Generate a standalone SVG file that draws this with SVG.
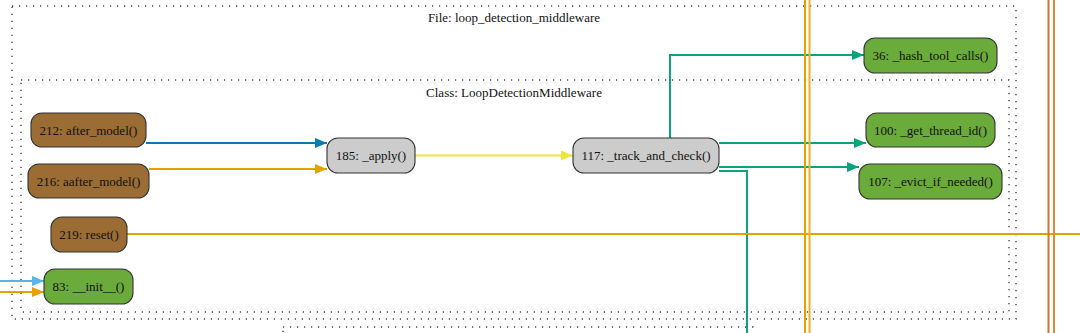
<svg xmlns="http://www.w3.org/2000/svg" width="1080" height="333" viewBox="0 0 1080 333">
<style>
.cl{fill:none;stroke:#444;stroke-width:1.4;stroke-dasharray:1.2 5.8}
.cll{font-family:"Liberation Serif","Times New Roman",serif;font-size:13px;fill:#111;text-anchor:middle}
.n rect{stroke:#333;stroke-width:1.1}
.n text{font-family:"Liberation Serif","Times New Roman",serif;font-size:13px;fill:#111;text-anchor:middle;dominant-baseline:central}
.brown{fill:#9b6c34}
.green{fill:#6aab3b}
.gray{fill:#cccccc}
.e{fill:none;stroke-width:2}
</style>
<defs>
<marker id="aB" viewBox="0 0 12 10" refX="12" refY="5" markerWidth="12" markerHeight="10" markerUnits="userSpaceOnUse" orient="auto"><path d="M0,0 L12,5 L0,10 z" fill="#0f77b0"/></marker>
<marker id="aO" viewBox="0 0 12 10" refX="12" refY="5" markerWidth="12" markerHeight="10" markerUnits="userSpaceOnUse" orient="auto"><path d="M0,0 L12,5 L0,10 z" fill="#e6a000"/></marker>
<marker id="aY" viewBox="0 0 12 10" refX="12" refY="5" markerWidth="12" markerHeight="10" markerUnits="userSpaceOnUse" orient="auto"><path d="M0,0 L12,5 L0,10 z" fill="#efe442"/></marker>
<marker id="aG" viewBox="0 0 12 10" refX="12" refY="5" markerWidth="12" markerHeight="10" markerUnits="userSpaceOnUse" orient="auto"><path d="M0,0 L12,5 L0,10 z" fill="#0ba37a"/></marker>
<marker id="aL" viewBox="0 0 12 10" refX="12" refY="5" markerWidth="12" markerHeight="10" markerUnits="userSpaceOnUse" orient="auto"><path d="M0,0 L12,5 L0,10 z" fill="#56b4e9"/></marker>
</defs>
<rect width="1080" height="333" fill="#fff"/>
<g id="clusters">
<rect class="cl" x="12" y="6" width="1004" height="313"/>
<text class="cll" x="514" y="22">File: loop_detection_middleware</text>
<rect class="cl" x="21" y="80" width="988" height="232"/>
<text class="cll" x="514" y="97">Class: LoopDetectionMiddleware</text>
<rect class="cl" x="283" y="327" width="470" height="40"/>
</g>
<g id="connectors">
<path class="e" stroke="#0f77b0" d="M146,143 H327" marker-end="url(#aB)"/>
<path class="e" stroke="#e6a000" d="M149,169 H327" marker-end="url(#aO)"/>
<path class="e" stroke="#efe442" d="M415,155.5 H573" marker-end="url(#aY)"/>
<path class="e" stroke="#0ba37a" d="M670,138 V55 H864" marker-end="url(#aG)"/>
<path class="e" stroke="#0ba37a" d="M719,143 H866" marker-end="url(#aG)"/>
<path class="e" stroke="#0ba37a" d="M719,167 H859" marker-end="url(#aG)"/>
<path class="e" stroke="#0ba37a" d="M719,171 H747 V333"/>
<path class="e" stroke="#e6a000" d="M127,234 H1080"/>
<path class="e" stroke="#e6a000" d="M805,0 V333"/>
<path class="e" stroke="#f0b020" d="M809.5,0 V333"/>
<path class="e" stroke="#d8742a" d="M1048.5,0 V333"/>
<path class="e" stroke="#e08840" d="M1054,0 V333"/>
<path class="e" stroke="#56b4e9" d="M0,281 H44" marker-end="url(#aL)"/>
<path class="e" stroke="#e6a000" d="M0,292 H44" marker-end="url(#aO)"/>
</g>
<g id="n212" class="n"><rect class="brown" x="31" y="113" width="115" height="34" rx="11"/><text x="88.5" y="130">212: after_model()</text></g>
<g id="n216" class="n"><rect class="brown" x="28" y="164" width="121" height="34" rx="11"/><text x="88.5" y="181">216: aafter_model()</text></g>
<g id="n219" class="n"><rect class="brown" x="51" y="217" width="76" height="35" rx="11"/><text x="89" y="234.5">219: reset()</text></g>
<g id="n83" class="n"><rect class="green" x="44" y="269" width="89" height="35" rx="11"/><text x="88.5" y="286.5">83: __init__()</text></g>
<g id="n185" class="n"><rect class="gray" x="327" y="138" width="88" height="35" rx="11"/><text x="371" y="155.5">185: _apply()</text></g>
<g id="n117" class="n"><rect class="gray" x="573" y="138" width="146" height="35" rx="11"/><text x="646" y="155.5">117: _track_and_check()</text></g>
<g id="n36" class="n"><rect class="green" x="864" y="38" width="133" height="35" rx="11"/><text x="930.5" y="55.5">36: _hash_tool_calls()</text></g>
<g id="n100" class="n"><rect class="green" x="866" y="113" width="129" height="34" rx="11"/><text x="930.5" y="130">100: _get_thread_id()</text></g>
<g id="n107" class="n"><rect class="green" x="859" y="164" width="143" height="35" rx="11"/><text x="930.5" y="181.5">107: _evict_if_needed()</text></g>
</svg>
